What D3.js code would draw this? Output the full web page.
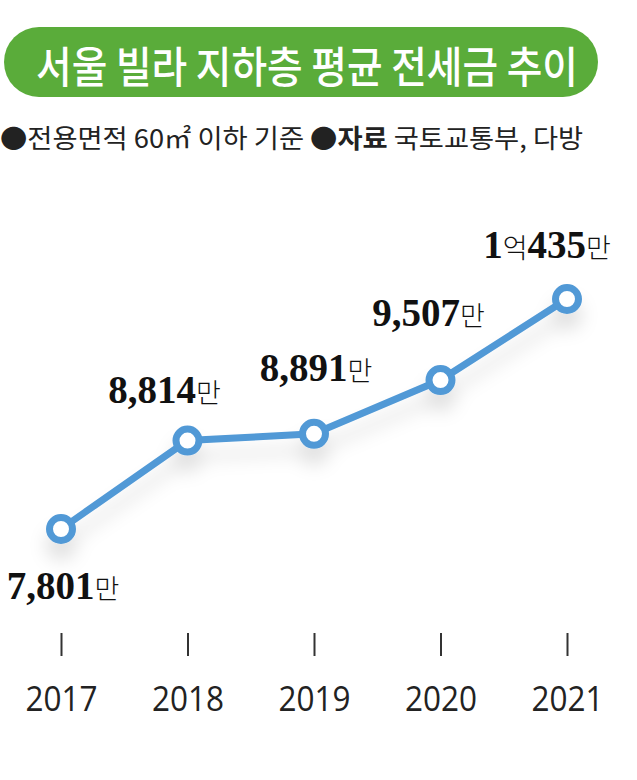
<!DOCTYPE html>
<html><head><meta charset="utf-8">
<script src="https://cdn.jsdelivr.net/npm/d3@7"></script>
<style>body{margin:0;background:#fff}svg{display:block}</style>
</head><body>
<script>
const years = ["2017","2018","2019","2020","2021"];
const values = [7801, 8814, 8891, 9507, 10435];
const labelNums = ["7,801", "8,814", "8,891", "9,507", "1억435"];
const title = "서울 빌라 지하층 평균 전세금 추이";

const W = 637, H = 780;
const svg = d3.select("body").append("svg").attr("width", W).attr("height", H);
const defs = svg.append("defs");
const f = defs.append("filter").attr("id","sh").attr("x","-20%").attr("y","-50%").attr("width","140%").attr("height","250%");
f.append("feDropShadow").attr("dx",0).attr("dy",16).attr("stdDeviation",9).attr("flood-color","#000").attr("flood-opacity",0.12);

// title pill
svg.append("rect").attr("x",4).attr("y",27).attr("width",594).attr("height",70).attr("rx",35).attr("fill","#5aac3a");
svg.append("g").attr("transform","translate(307,83) scale(0.9,1)")
  .append("text").attr("x",0).attr("y",0).attr("text-anchor","middle")
  .attr("font-family","'Noto Sans CJK KR'").attr("font-weight",500).attr("font-size",43).attr("fill","#fff").text(title);

// subtitle
const sub = svg.append("g").attr("transform","translate(0,148) scale(1.05,1)")
  .append("text").attr("x",0).attr("y",0)
  .attr("font-family","'Noto Sans CJK KR'").attr("font-size",26).attr("fill","#222");
sub.append("tspan").text("●전용면적 60㎡ 이하 기준 ");
sub.append("tspan").attr("font-weight",700).text("●자료");
sub.append("tspan").text("  국토교통부, 다방");

const x = d3.scalePoint().domain(years).range([61, 567]);
const y = d3.scaleLinear().domain([7801, 10435]).range([529, 299]);

// axis ticks & labels
const ax = d3.axisBottom(x).tickSize(23).tickPadding(30);
const g = svg.append("g").attr("transform","translate(0,633)").call(ax);
g.select(".domain").remove();
g.selectAll(".tick line").attr("stroke","#333").attr("stroke-width",2);
g.selectAll(".tick text").attr("font-family","'Open Sans', 'Noto Sans'").attr("font-size",35).attr("fill","#222")
  .attr("textLength",72).attr("lengthAdjust","spacingAndGlyphs");

const data = years.map((yr,i)=>({yr, v: values[i], lab: labelNums[i]}));
const line = d3.line().x(d=>x(d.yr)).y(d=>y(d.v));
const grp = svg.append("g").attr("filter","url(#sh)");
grp.append("path").datum(data).attr("d", line).attr("fill","none").attr("stroke","#5199d6").attr("stroke-width",7);
grp.selectAll("circle").data(data).join("circle").attr("cx",d=>x(d.yr)).attr("cy",d=>y(d.v)).attr("r",11.5)
  .attr("fill","#fff").attr("stroke","#5199d6").attr("stroke-width",7);

// value labels
const offs = [[2, 70], [-23, -38], [2, -53], [-12, -54], [-20, -41]];
data.forEach((d,i)=>{
  const t = svg.append("text").attr("x", x(d.yr)+offs[i][0]).attr("y", y(d.v)+offs[i][1]).attr("text-anchor","middle").attr("fill","#111");
  const num = s => t.append("tspan").attr("font-family","'Liberation Serif'").attr("font-weight",700).attr("font-size",39).text(s);
  const kr = s => t.append("tspan").attr("font-family","'Noto Sans CJK KR'").attr("font-weight",300).attr("font-size",27).text(s);
  if (d.lab.includes("억")) {
    const [a,b] = d.lab.split("억");
    num(a); kr("억"); num(b);
  } else {
    num(d.lab);
  }
  kr("만");
});
</script>
</body></html>
